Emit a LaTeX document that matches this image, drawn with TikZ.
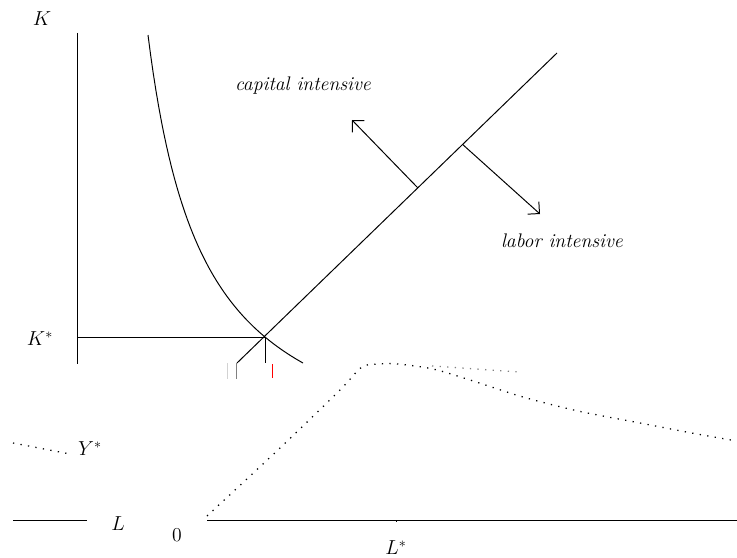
\documentclass[tikz,border=0pt]{standalone}
\usetikzlibrary{arrows.meta}
\begin{document}
\begin{tikzpicture}[x=0.025cm, y=-0.025cm, font=\fontsize{14}{16}\selectfont, line width=0.7pt,
    barb/.style={-{Straight Barb[length=0.21cm, width=0.42cm]}},
    dots/.style={line width=0.9pt, dash pattern=on 0.9pt off 4.5pt}]
    \useasboundingbox (0,0) rectangle (737,558);

    \coordinate (ktop) at (77,33);
    \coordinate (kbase) at (77,364);
    \coordinate (kstar) at (77,337);
    \coordinate (opt) at (265,337);
    \coordinate (optdown) at (265,363);
    \coordinate (raylow) at (237,363);
    \coordinate (rayhigh) at (557,53);
    \path (raylow) -- (rayhigh) coordinate[pos=0.565] (capfoot) coordinate[pos=0.705] (labfoot);
    \coordinate (captip) at (352,120);
    \coordinate (labtip) at (540,214);

    \node (K) at (42,19) {$K$};
    \node (Kstar) at (40,339) {$K^*$};
    \node (capital) at (303,86) {\textit{capital intensive}};
    \node (labor) at (562,241) {\textit{labor intensive}};

    \draw (ktop) -- (kbase);
    \draw (kstar) -- (opt);
    \draw (raylow) -- (rayhigh);
    \draw (opt) -- (optdown);
    \draw[domain=148:303, samples=60, variable=\x]
        plot (\x, {481.3 - 100*(249.48/(\x-92.1))});
    \draw[barb] (capfoot) -- (captip);
    \draw[barb] (labfoot) -- (labtip);

    \draw[gray!35] (227,363) -- (227,379);
    \draw[gray] (236,363) -- (236,379);
    \draw[red] (272,364) -- (272,378);

    \coordinate (origin) at (207,520);
    \coordinate (lend) at (737,520);
    \coordinate (lstar) at (396,520);
    \coordinate (lfrom) at (13,520);
    \coordinate (lto) at (87,520);
    \node (Y) at (90,449) {$Y^*$};
    \node (L) at (118,524) {$L$};
    \node (zero) at (177,535) {0};
    \node (Lstar) at (396,548) {$L^*$};

    \draw (lfrom) -- (lto);
    \draw (origin) -- (lend);
    \draw (lstar) -- ++(0,2);
    \draw[dots] (13,443) -- (70,454);
    \draw[dots] plot[smooth] coordinates {(207,516) (280,448) (340,390) (362,367) (380,364)
        (398,364) (433,369) (470,380) (523,397) (578,411) (640,423) (697,434) (737,441)};
    \draw[dots, gray] (432,366) -- (520,372);
\end{tikzpicture}
\end{document}
